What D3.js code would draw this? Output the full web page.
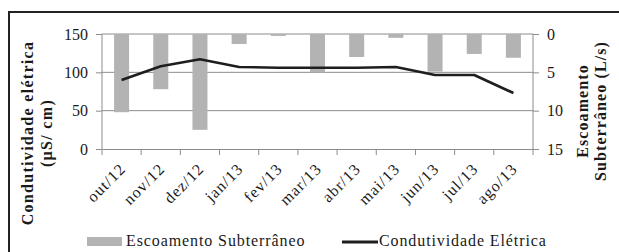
<!DOCTYPE html>
<html>
<head>
<meta charset="utf-8">
<script src="https://cdn.jsdelivr.net/npm/d3@7"></script>
<style>
  body { margin: 0; background: #fff; }
  svg text { font-family: "Liberation Serif", "DejaVu Serif", serif; fill: #1a1a1a; }
</style>
</head>
<body>
<script>
// months on the x axis
var months = ["out/12", "nov/12", "dez/12", "jan/13", "fev/13", "mar/13",
              "abr/13", "mai/13", "jun/13", "jul/13", "ago/13"];
// Escoamento Subterraneo (L/s), right axis, reversed
var escoamento = [10.2, 7.2, 12.5, 1.3, 0.25, 5.0, 3.0, 0.5, 4.9, 2.6, 3.1];
// Condutividade eletrica (uS/cm), left axis
var condutividade = [90, 108, 117, 107, 106, 106, 106, 107, 96.5, 96.5, 73];
var leftTicks = [0, 50, 100, 150];
var rightTicks = [0, 5, 10, 15];

var w = 619, h = 252;
var mLeft = 102, mRight = 533, mTop = 34, mBottom = 149;

var svg = d3.select("body").append("svg")
    .attr("width", w)
    .attr("height", h);

// outer frame
svg.append("path")
    .attr("d", "M9,252 V12 H619")
    .attr("fill", "none")
    .attr("stroke", "#222")
    .attr("stroke-width", 2);

var x = d3.scaleBand().domain(months).range([mLeft, mRight]);
var yL = d3.scaleLinear().domain([0, 150]).range([mBottom, mTop]);
var yR = d3.scaleLinear().domain([0, 15]).range([mTop, mBottom]);

// gridlines
svg.append("g")
  .selectAll("line")
  .data(leftTicks.slice(1))
  .enter().append("line")
    .attr("x1", mLeft).attr("x2", mRight)
    .attr("y1", function(d) { return yL(d); })
    .attr("y2", function(d) { return yL(d); })
    .attr("stroke", "#8c8c8c")
    .attr("stroke-width", 1);

// bars hanging from top
var bw = 15;
svg.append("g")
  .selectAll("rect")
  .data(escoamento)
  .enter().append("rect")
    .attr("x", function(d, i) { return x(months[i]) + x.bandwidth() / 2 - bw / 2; })
    .attr("y", yR(0))
    .attr("width", bw)
    .attr("height", function(d) { return yR(d) - yR(0); })
    .attr("fill", "#b3b3b3");

// line
var line = d3.line()
    .x(function(d, i) { return x(months[i]) + x.bandwidth() / 2; })
    .y(function(d) { return yL(d); });

svg.append("path")
    .datum(condutividade)
    .attr("d", line)
    .attr("fill", "none")
    .attr("stroke", "#1e1e1e")
    .attr("stroke-width", 2.6)
    .attr("stroke-linejoin", "round");

// axes
var gL = svg.append("g")
    .attr("transform", "translate(" + mLeft + ",0)")
    .call(d3.axisLeft(yL).tickValues(leftTicks).tickSize(6).tickPadding(8));
var gR = svg.append("g")
    .attr("transform", "translate(" + mRight + ",0)")
    .call(d3.axisRight(yR).tickValues(rightTicks).tickSize(6).tickPadding(8));
var gB = svg.append("g")
    .attr("transform", "translate(0," + mBottom + ")")
    .call(d3.axisBottom(x).tickSize(0).tickPadding(0));

[gL, gR, gB].forEach(function(g) {
  g.select(".domain").attr("stroke", "#8c8c8c").attr("stroke-width", 1);
  g.selectAll(".tick line").attr("stroke", "#8c8c8c");
  g.selectAll("text").style("font-size", "16px").attr("fill", "#1a1a1a");
});
gL.select(".domain").attr("d", "M0," + mBottom + "V" + mTop);
gR.select(".domain").attr("d", "M0," + mBottom + "V" + mTop);

// bottom tick marks at band edges
svg.append("g")
  .selectAll("line")
  .data(months.concat(["end"]))
  .enter().append("line")
    .attr("x1", function(d, i) { return mLeft + i * x.bandwidth(); })
    .attr("x2", function(d, i) { return mLeft + i * x.bandwidth(); })
    .attr("y1", mBottom)
    .attr("y2", mBottom + 6)
    .attr("stroke", "#8c8c8c");

gB.selectAll("text")
    .style("font-size", "16px")
    .style("letter-spacing", "1px")
    .attr("text-anchor", "end")
    .attr("dy", 0)
    .attr("transform", "translate(5,21) rotate(-45)");

// axis titles
var tL = svg.append("text")
    .attr("transform", "translate(33,133) rotate(-90)")
    .attr("text-anchor", "middle")
    .attr("font-weight", "bold")
    .style("font-size", "16px")
    .style("letter-spacing", "1.3px");
tL.append("tspan").attr("x", 0).attr("dy", 0).text("Condutividade elétrica");
tL.append("tspan").attr("x", 0).attr("dy", 19).text("(µS/ cm)");

var tR = svg.append("text")
    .attr("transform", "translate(588,111) rotate(-90)")
    .attr("text-anchor", "middle")
    .attr("font-weight", "bold")
    .style("font-size", "16px")
    .style("letter-spacing", "1.1px");
tR.append("tspan").attr("x", 0).attr("dy", 0).text("Escoamento");
tR.append("tspan").attr("x", 0).attr("dy", 18).text("Subterrâneo (L/s)");

// legend
var lg = svg.append("g");
lg.append("rect")
    .attr("x", 87).attr("y", 237)
    .attr("width", 35).attr("height", 9)
    .attr("fill", "#b3b3b3");
lg.append("text")
    .attr("x", 126).attr("y", 246)
    .style("font-size", "16px")
    .style("letter-spacing", "0.9px")
    .text("Escoamento Subterrâneo");
lg.append("line")
    .attr("x1", 342).attr("x2", 378)
    .attr("y1", 242).attr("y2", 242)
    .attr("stroke", "#1e1e1e")
    .attr("stroke-width", 3);
lg.append("text")
    .attr("x", 379).attr("y", 246)
    .style("font-size", "16px")
    .style("letter-spacing", "0.9px")
    .text("Condutividade Elétrica");
</script>
</body>
</html>
